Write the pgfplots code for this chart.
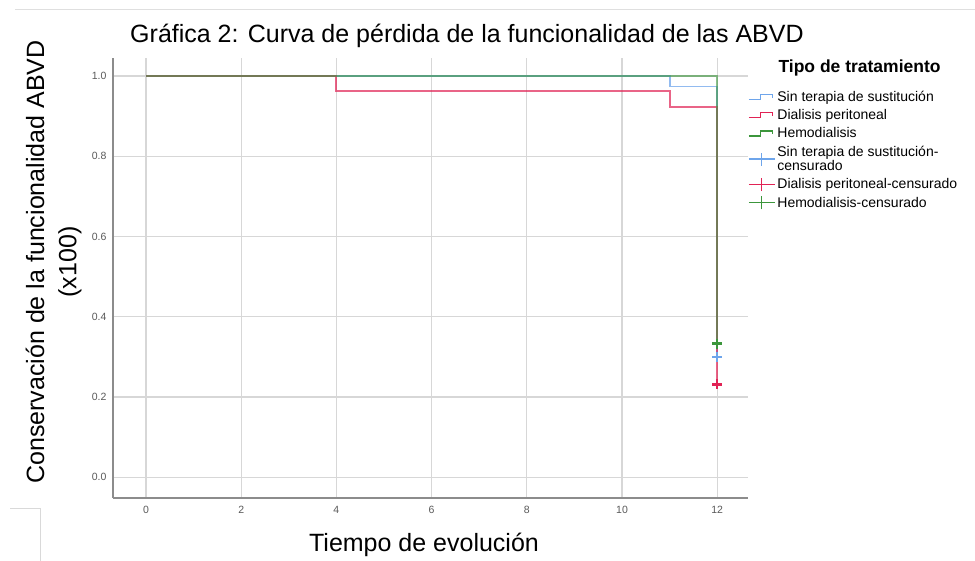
\documentclass[border=0pt]{standalone}
\usepackage{fontspec}
\setmainfont{Liberation Sans}
\usepackage{pgfplots}
\pgfplotsset{compat=1.18}
\definecolor{cblue}{RGB}{110,165,235}
\definecolor{cred}{RGB}{225,35,85}
\definecolor{cgreen}{RGB}{60,150,60}
\definecolor{gridc}{RGB}{215,215,215}
\definecolor{axc}{RGB}{140,140,140}
\definecolor{tickc}{RGB}{90,90,90}
\pgfplotsset{
  steplegend/.style={legend image code/.code={\draw[##1, opacity=1, line width=1.2pt] (0pt,-2.5pt) -- (12pt,-2.5pt) -- (12pt,2.5pt) -- (24pt,2.5pt) -- (24pt,-1pt);}},
  censlegend/.style={legend image code/.code={\draw[#1, line width=1.2pt] (0pt,0pt) -- (26pt,0pt); \draw[#1, line width=1.2pt] (13pt,-6.5pt) -- (13pt,6.5pt);}},
}
\begin{document}
\begin{tikzpicture}[x=1pt,y=1pt]
\useasboundingbox (0,0) rectangle (975,561);
\fill[white] (0,0) rectangle (975,561);
% faint page artifacts
\draw[gray!25, line width=1pt] (15,551) -- (975,551);
\draw[gray!30, line width=0.8pt] (10,53) -- (40,53) -- (40,0);
\begin{axis}[
  at={(113pt,63pt)}, anchor=south west,
  scale only axis, width=635pt, height=440pt,
  xmin=-0.693, xmax=12.647, ymin=-0.052, ymax=1.045,
  axis x line*=bottom, axis y line*=left,
  axis line style={axc, line width=1.4pt, -},
  xtick={0,2,4,6,8,10,12},
  ytick={0,0.2,0.4,0.6,0.8,1.0},
  yticklabel style={/pgf/number format/fixed, /pgf/number format/fixed zerofill, /pgf/number format/precision=1, xshift=-3pt},
  /pgf/number format/assume math mode=true,
  major tick length=0pt,
  tick label style={font=\fontsize{10.5}{12}\selectfont, color=tickc},
  xticklabel style={yshift=-5pt},
  grid=major,
  major grid style={gridc, line width=1.2pt},
  legend style={at={(axis description cs:1.0,0.93)}, anchor=north west,
    draw=none, fill=none, inner sep=0pt, font=\fontsize{14}{14.5}\selectfont,
    row sep=2.6pt, cells={align=left}},
  legend cell align=left,
  clip=false,
]
\addplot[cblue, line width=1.8pt, opacity=0.75, steplegend]
  coordinates {(0,1) (11,1) (11,0.974) (12,0.974) (12,0.300)};
\addlegendentry{Sin terapia de sustitución}
\addplot[cred, line width=1.8pt, opacity=0.7, steplegend]
  coordinates {(0,1) (4,1) (4,0.962) (11,0.962) (11,0.923) (12,0.923) (12,0.231)};
\addlegendentry{Dialisis peritoneal}
\addplot[cgreen, line width=1.8pt, opacity=0.6, steplegend]
  coordinates {(0,1) (12,1) (12,0.333)};
\addlegendentry{Hemodialisis}
\addplot[only marks, cblue, mark=+, mark size=5pt, mark options={line width=2.2pt}, censlegend=cblue]
  coordinates {(12,0.300)};
\addlegendentry{Sin terapia de sustitución-\\censurado}
\addplot[only marks, cred, mark=+, mark size=5pt, mark options={line width=2.2pt}, censlegend=cred]
  coordinates {(12,0.231)};
\addlegendentry{Dialisis peritoneal-censurado}
\addplot[only marks, cgreen, mark=+, mark size=5pt, mark options={line width=2.2pt}, censlegend=cgreen]
  coordinates {(12,0.333)};
\addlegendentry{Hemodialisis-censurado}
\end{axis}
% texts
\node[font=\fontsize{25}{28}\selectfont, anchor=center] at (467,525) {Gráfica 2: Curva de pérdida de la funcionalidad de las ABVD};
\node[font=\bfseries\fontsize{17.5}{19}\selectfont, anchor=west] at (775,493) {Tipo de tratamiento};
\node[font=\fontsize{25}{28}\selectfont, rotate=90, anchor=center] at (35,299) {Conservación de la funcionalidad ABVD};
\node[font=\fontsize{25}{28}\selectfont, rotate=90, anchor=center] at (70,299) {(x100)};
\node[font=\fontsize{25}{28}\selectfont, anchor=center] at (424,16) {Tiempo de evolución};
\end{tikzpicture}
\end{document}
